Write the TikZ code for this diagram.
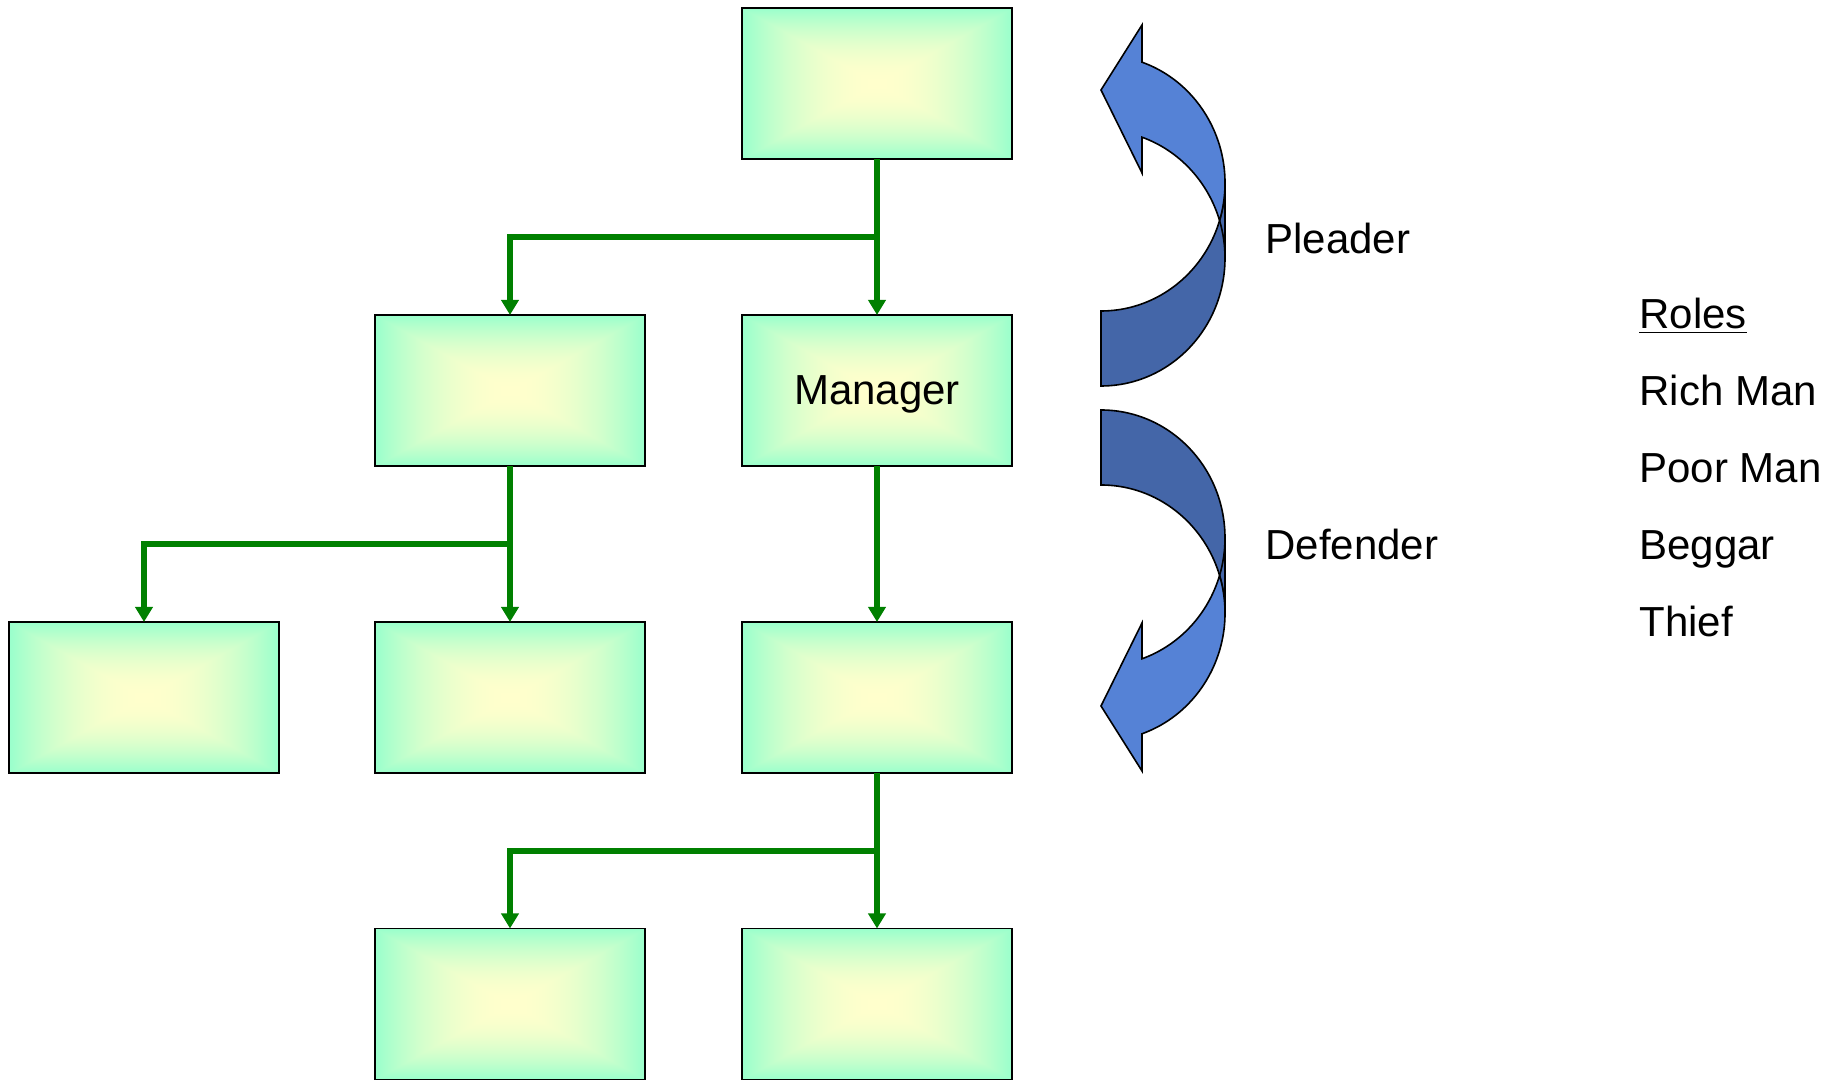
\documentclass[tikz,border=0pt]{standalone}
\usepackage{fontspec}
\setmainfont{Liberation Sans}
\usetikzlibrary{arrows.meta,calc}

\definecolor{mint}{RGB}{153,255,204}
\definecolor{linkgreen}{RGB}{0,128,0}
\definecolor{frontblue}{RGB}{85,130,214}
\definecolor{backblue}{RGB}{68,102,168}

% yellow centre fading to mint at the edges
\pgfdeclarefunctionalshading{boxglow}{\pgfpoint{-50bp}{-50bp}}{\pgfpoint{50bp}{50bp}}{}{
abs exch abs 2 copy lt {exch} if pop 25 div dup 1 gt {pop 1} if dup mul 0.4 mul 1 exch sub 1 0.8
}

\newcommand{\bendArrow}[2]{
\begin{scope}[shift={(#1)},yscale=#2,line width=0.8pt]
\draw [draw,fill=backblue] (0,12) arc [start angle=-90,end angle=0,x radius=62pt,y radius=64pt]
  -- (124,215) arc [start angle=0,end angle=-90,x radius=62pt,y radius=64pt] -- cycle;
\draw [draw,fill=frontblue] (0,308) -- (41,373) -- (41,335.8)
  arc [start angle=70.69,end angle=-17.04,x radius=62pt,y radius=64pt]
  arc [start angle=17.04,end angle=70.69,x radius=62pt,y radius=64pt]
  -- (41,225) -- cycle;
\draw [draw] (124,140) arc [start angle=0,end angle=17.04,x radius=62pt,y radius=64pt];
\end{scope}
}

\tikzset{
  unit/.style={draw=black,line width=0.8pt,shade,shading=boxglow,minimum width=135pt,
    minimum height=75.5pt,inner sep=0pt,outer sep=0pt,text depth=0pt},
  link/.style={draw=linkgreen,line width=3pt,-{Triangle[width=8.5pt,length=7.5pt]}},
  tag/.style={anchor=base west,inner sep=0pt}
}

\begin{document}
\begin{tikzpicture}[x=0.5pt,y=0.5pt,font=\fontsize{21}{25}\selectfont]
\useasboundingbox (0,0) rectangle (1843,1081);

\node [unit] (top) at (877,997.5) {};
\node [unit] (side) at (510,690.5) {};
\node [unit] (mgr) at (877,690.5) {Manager};
\node [unit] (low1) at (144,383.5) {};
\node [unit] (low2) at (510,383.5) {};
\node [unit] (low3) at (877,383.5) {};
\node [unit] (foot1) at (510,77) {};
\node [unit] (foot2) at (877,77) {};

\coordinate (j1) at ($(top.south)!0.5!(mgr.north)$);
\coordinate (j2) at ($(side.south)!0.5!(low2.north)$);
\coordinate (j3) at ($(low3.south)!0.5!(foot2.north)$);

\draw [link] (top.south) -- (mgr.north);
\draw [link] (j1) -| (side.north);
\draw [link] (side.south) -- (low2.north);
\draw [link] (j2) -| (low1.north);
\draw [link] (mgr.south) -- (low3.north);
\draw [link] (low3.south) -- (foot2.north);
\draw [link] (j3) -| (foot1.north);

\bendArrow{1101,683}{1};
\bendArrow{1101,683}{-1};

\node [tag] (plead) at (1265,827) {Pleader};
\node [tag] (defend) at (1265,521) {Defender};

\node [tag] (roles) at (1639,752) {\underline{Roles}};
\node [tag] (rich) at (1639,675) {Rich Man};
\node [tag] (poor) at (1639,598) {Poor Man};
\node [tag] (beggar) at (1639,521) {Beggar};
\node [tag] (thief) at (1639,444) {Thief};
\end{tikzpicture}
\end{document}
